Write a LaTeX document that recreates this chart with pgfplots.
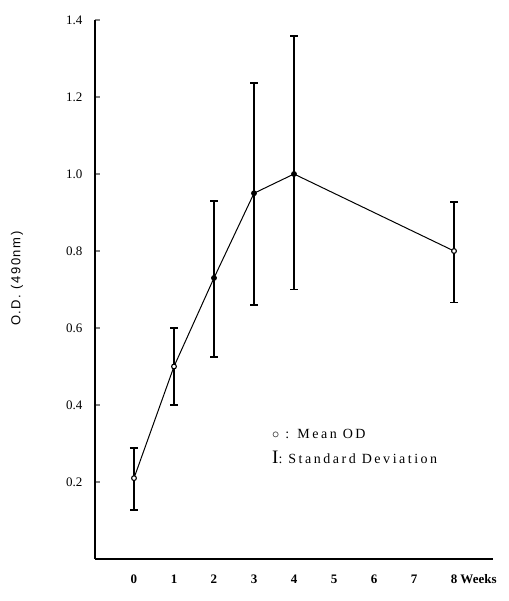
\documentclass[border=0pt]{standalone}
\usepackage{fontspec}
\setmainfont{Liberation Serif}
\newfontfamily\labfont[LetterSpace=12]{Liberation Sans}
\newfontfamily\legfont[LetterSpace=18]{Liberation Serif}
\usepackage{pgfplots}
\pgfplotsset{compat=1.18}
\usepackage{pgfplotstable}

% mean OD per week, error up / down, marker class (a = open, b = filled)
\pgfplotstableread{
wk od   ep    em    cls
0  0.21 0.078 0.083 a
1  0.50 0.10  0.10  a
2  0.73 0.20  0.205 b
3  0.95 0.286 0.29  b
4  1.00 0.358 0.30  b
8  0.80 0.127 0.133 a
}\oddata

\begin{document}
\begin{tikzpicture}
\begin{axis}[
  name=ax,
  scale only axis,
  width=398pt, height=539pt,
  xmin=-0.975, xmax=8.975, ymin=0, ymax=1.4,
  axis lines=left,
  axis line style={line width=1.4pt, -},
  clip=false,
  xtick={0,1,2,3,4,5,6,7,8},
  xticklabels={0,1,2,3,4,5,6,7,8\rlap{ Weeks}},
  xtick style={draw=none},
  xticklabel style={yshift=-12pt, font=\fontsize{13}{15}\selectfont\bfseries},
  ytick={0.2,0.4,0.6,0.8,1.0,1.2,1.4},
  ytick style={line width=1.4pt},
  yticklabel style={xshift=-9pt, font=\fontsize{13}{15}\selectfont,
    /pgf/number format/.cd, fixed, fixed zerofill, precision=1},
  /pgf/number format/assume math mode=true,
  tick align=inside,
  major tick length=5pt,
  ylabel={\labfont O.D. (490nm)},
  ylabel style={font=\fontsize{13}{15}\selectfont, at={(axis description cs:-0.196,0.52)}, anchor=center},
]
\addplot[black, line width=1pt,
  scatter, point meta=explicit symbolic,
  scatter/classes={
    a={mark=*, mark size=2.4pt, draw=black, fill=white, line width=1.1pt},
    b={mark=*, mark size=2.4pt, draw=black, fill=black}},
  error bars/.cd, y dir=both, y explicit,
  error bar style={line width=1.4pt},
  error mark options={rotate=90, mark size=4pt, line width=1.4pt}]
  table[x=wk, y=od, y error plus=ep, y error minus=em, meta=cls] {\oddata};

\node[anchor=base west, inner sep=0pt] at (axis cs:3.45,0.314)
  {\fontsize{14}{16}\selectfont$\circ$\legfont\ : Mean OD};
\node[anchor=base west, inner sep=0pt] at (axis cs:3.45,0.249)
  {\fontsize{19}{19}\selectfont I\fontsize{14}{16}\selectfont\legfont: Standard Deviation};
\end{axis}
\pgfresetboundingbox
\path[use as bounding box] (ax.south west) ++(-95pt,-42pt) rectangle ++(508pt,601pt);
\end{tikzpicture}
\end{document}
